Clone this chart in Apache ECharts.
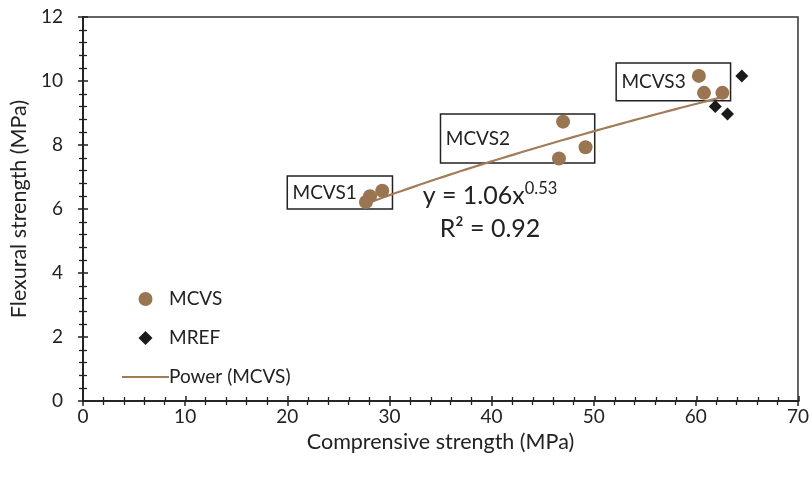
<!DOCTYPE html>
<html>
<head>
<meta charset="utf-8">
<script src="https://cdn.jsdelivr.net/npm/echarts@6/dist/echarts.min.js"></script>
<style>
  html, body { margin: 0; padding: 0; background: #fff; }
  #chart { width: 812px; height: 477px; }
</style>
</head>
<body>
<div id="chart"></div>
<script>
// Compressive vs flexural strength (MPa)
const mcvsCompressive = [27.7, 28.1, 29.3, 46.6, 47.0, 49.2, 60.3, 60.8, 62.6];
const mcvsFlexural    = [6.22, 6.40, 6.57, 7.58, 8.73, 7.93, 10.16, 9.63, 9.63];
const mrefCompressive = [64.5, 61.9, 63.1];
const mrefFlexural    = [10.16, 9.20, 8.97];

// Power trendline fitted to MCVS: y = a * x^b
const powerCoef = 1.06;
const powerExp = 0.53;
const rSquared = 0.92;

const groupLabels = ['MCVS1', 'MCVS2', 'MCVS3'];
const xTicks = [0, 10, 20, 30, 40, 50, 60, 70];
const yTicks = [0, 2, 4, 6, 8, 10, 12];

const FONT = 'Lato, "Open Sans", sans-serif';
const BROWN = '#9a7552';
const AXIS = '#222222';

const mcvsPoints = mcvsCompressive.map((x, i) => [x, mcvsFlexural[i]]);
const mrefPoints = mrefCompressive.map((x, i) => [x, mrefFlexural[i]]);

// Sample the trendline across the MCVS data range
const xLo = Math.min(...mcvsCompressive), xHi = Math.max(...mcvsCompressive);
const trendPoints = [];
for (let k = 0; k <= 60; k++) {
  const x = xLo + (xHi - xLo) * k / 60;
  trendPoints.push([x, powerCoef * Math.pow(x, powerExp)]);
}

// Boxes framing each mix group, in data units
const groupBoxes = [
  [[20.0, 6.0], [30.3, 7.03]],
  [[35.0, 7.44], [50.1, 8.97]],
  [[52.2, 9.38], [63.4, 10.56]]
];

const gridBox = { left: 83, right: 13, top: 17, bottom: 76 };

// outer = ticks pointing outward (with labels); inner copy gives crossing ticks
function valueAxis(gridIndex, min, max, interval, outer, extra) {
  return Object.assign({
    type: 'value', gridIndex, min, max, interval,
    axisLine: { show: true, onZero: false, lineStyle: { color: AXIS, width: 1.6 } },
    axisTick: { show: true, inside: !outer, length: 5, lineStyle: { color: AXIS, width: 1.5 } },
    minorTick: { show: true, splitNumber: 5, length: 4, lineStyle: { color: AXIS, width: 1.3 } },
    splitLine: { show: false },
    minorSplitLine: { show: false },
    axisLabel: { show: outer, color: AXIS, fontFamily: FONT, fontSize: 19 }
  }, extra || {});
}

const chart = echarts.init(document.getElementById('chart'), null, { renderer: 'canvas' });

chart.setOption({
  backgroundColor: '#fff',
  animation: false,
  grid: [
    Object.assign({ show: true, borderColor: '#333333', borderWidth: 1.5, backgroundColor: 'transparent' }, gridBox),
    Object.assign({ show: false }, gridBox)
  ],
  xAxis: [
    valueAxis(0, xTicks[0], xTicks[xTicks.length - 1], xTicks[1] - xTicks[0], true, {
      name: 'Comprensive strength (MPa)', nameLocation: 'middle', nameGap: 29,
      nameTextStyle: { color: AXIS, fontFamily: FONT, fontSize: 21.5 },
      axisLabel: { show: true, color: AXIS, fontFamily: FONT, fontSize: 19, margin: 6 }
    }),
    valueAxis(1, xTicks[0], xTicks[xTicks.length - 1], xTicks[1] - xTicks[0], false)
  ],
  yAxis: [
    valueAxis(0, yTicks[0], yTicks[yTicks.length - 1], yTicks[1] - yTicks[0], true, {
      name: 'Flexural strength (MPa)', nameLocation: 'middle', nameGap: 53,
      nameTextStyle: { color: AXIS, fontFamily: FONT, fontSize: 21.5 },
      axisLabel: { show: true, color: AXIS, fontFamily: FONT, fontSize: 19, margin: 20 }
    }),
    valueAxis(1, yTicks[0], yTicks[yTicks.length - 1], yTicks[1] - yTicks[0], false)
  ],
  legend: {
    orient: 'vertical', left: 117, top: 284.5,
    itemWidth: 47, itemHeight: 14, itemGap: 20,
    symbolKeepAspect: true,
    textStyle: { color: AXIS, fontFamily: FONT, fontSize: 19, lineHeight: 14, padding: [0, 0, 0, -5] },
    data: [
      { name: 'MCVS', icon: 'circle' },
      { name: 'MREF', icon: 'path://M0,-6L6,0L0,6L-6,0Z', itemStyle: { color: '#1a1a1a' } },
      { name: 'Power (MCVS)', icon: 'path://M0,0L47,0L47,2.2L0,2.2Z' }
    ]
  },
  series: [
    {
      name: 'Power (MCVS)', type: 'line', data: trendPoints, symbol: 'none',
      smooth: false, lineStyle: { color: '#a27c58', width: 2.2 }, itemStyle: { color: '#a27c58' },
      z: 2,
      markArea: {
        silent: true,
        itemStyle: { color: 'rgba(0,0,0,0)', borderColor: '#222222', borderWidth: 1.5 },
        label: {
          show: true, position: 'insideLeft', distance: 6,
          color: AXIS, fontFamily: FONT, fontSize: 19
        },
        data: groupBoxes.map((b, i) => [
          { name: groupLabels[i], coord: b[0] },
          { coord: b[1] }
        ])
      }
    },
    {
      name: 'MCVS', type: 'scatter', data: mcvsPoints, symbol: 'circle', symbolSize: 14,
      itemStyle: { color: BROWN, opacity: 1 }, z: 3
    },
    {
      name: 'MREF', type: 'scatter', data: mrefPoints, symbol: 'diamond', symbolSize: 13,
      itemStyle: { color: '#1a1a1a', opacity: 1 }, z: 3
    }
  ],
  graphic: [
    {
      type: 'text', x: 490, y: 196, z: 10,
      style: {
        text: '{m|y = ' + powerCoef.toFixed(2) + 'x}{s|' + powerExp.toFixed(2) + '}',
        align: 'center', verticalAlign: 'middle',
        rich: {
          m: { fontFamily: FONT, fontSize: 25, fill: AXIS },
          s: { fontFamily: FONT, fontSize: 16.5, fill: AXIS, padding: [0, 0, 14, 0] }
        }
      }
    },
    {
      type: 'text', x: 490, y: 229, z: 10,
      style: {
        text: 'R² = ' + rSquared.toFixed(2), fontFamily: FONT, fontSize: 25, fill: AXIS,
        align: 'center', verticalAlign: 'middle'
      }
    }
  ]
});
</script>
</body>
</html>
